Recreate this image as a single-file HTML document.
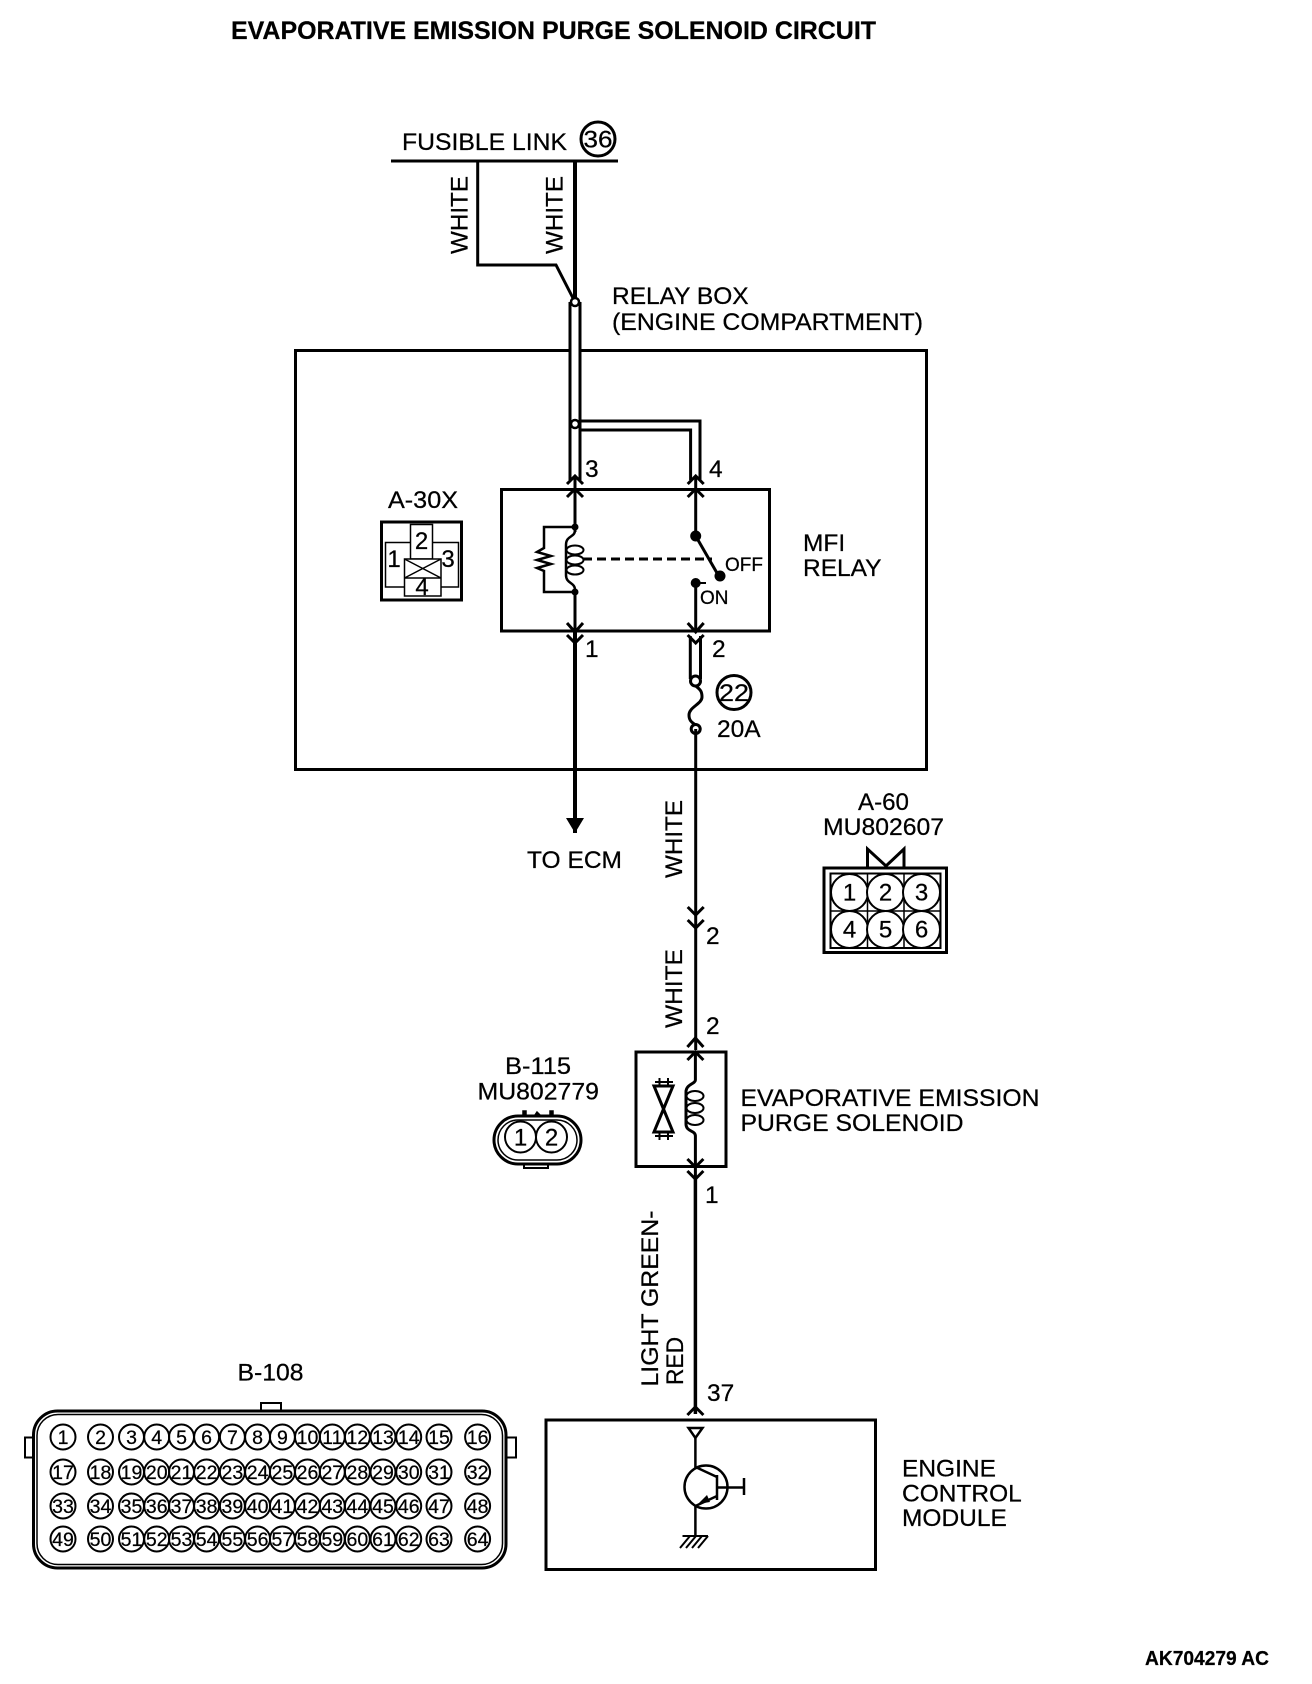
<!DOCTYPE html>
<html><head><meta charset="utf-8"><title>Evaporative Emission Purge Solenoid Circuit</title>
<style>
html,body{margin:0;padding:0;background:#fff}
svg{display:block}
text{font-family:"Liberation Sans",sans-serif;font-size:24.5px;fill:#000;stroke:#000;stroke-width:.25}
.w{fill:none;stroke:#000;stroke-width:3}
.t{fill:none;stroke:#000;stroke-width:2}
.n{font-size:19.5px;text-anchor:middle}
.d{font-size:24px;text-anchor:middle}
.r circle{fill:none;stroke:#000;stroke-width:2}
</style></head><body>
<svg width="1312" height="1684" viewBox="0 0 1312 1684" xmlns="http://www.w3.org/2000/svg">
<rect width="1312" height="1684" fill="#fff"/>
<text x="231" y="39" textLength="645" lengthAdjust="spacingAndGlyphs" style="font-size:25px;font-weight:bold">EVAPORATIVE EMISSION PURGE SOLENOID CIRCUIT</text>

<!-- Fusible link -->
<text x="402" y="150" textLength="165" lengthAdjust="spacingAndGlyphs">FUSIBLE LINK</text>
<circle cx="598" cy="139" r="17" class="w"/>
<text x="598" y="147.5" class="d" textLength="29" lengthAdjust="spacingAndGlyphs">36</text>
<path d="M391 161H618" class="w"/>
<path d="M477.7 161V265H556L575 302" class="w"/>
<path d="M575 161V298" fill="none" stroke="#000" stroke-width="4"/>
<text transform="translate(467.5,254) rotate(-90)" textLength="78" lengthAdjust="spacingAndGlyphs">WHITE</text>
<text transform="translate(562.5,254) rotate(-90)" textLength="78" lengthAdjust="spacingAndGlyphs">WHITE</text>

<text x="612" y="304">RELAY BOX</text>
<text x="612" y="330" textLength="311" lengthAdjust="spacingAndGlyphs">(ENGINE COMPARTMENT)</text>

<!-- Relay box -->
<rect x="295.5" y="350.5" width="631" height="419" class="w"/>
<rect x="570" y="302" width="10" height="176" fill="#fff" stroke="none"/>
<path d="M570 302V480M580 302V480" class="w"/>
<circle cx="575" cy="302" r="4" fill="#fff" stroke="#000" stroke-width="2.5"/>
<path d="M580 421H700V480M580 430H690.6V480" class="w"/>
<circle cx="575" cy="424" r="4" fill="#fff" stroke="#000" stroke-width="2.5"/>
<text x="585" y="477">3</text>
<text x="709" y="477">4</text>

<rect x="501.5" y="489.5" width="268" height="141.5" class="w"/>

<!-- top arrows -->
<path d="M567 484L575 476L583 484M567 497L575 489L583 497" class="w"/>
<path d="M687.7 484L695.7 476L703.7 484M687.7 497L695.7 489L703.7 497" class="w"/>
<!-- bottom arrows -->
<path d="M567 623L575 632L583 623M567 635L575 643L583 635" class="w"/>
<path d="M687.7 623L695.7 632L703.7 623M687.7 635L695.7 643L703.7 635" class="w"/>

<path d="M575 477V532M575 590V768" class="w"/>
<path d="M575 632V833" fill="none" stroke="#000" stroke-width="4"/>
<circle cx="575" cy="527" r="3.5"/><circle cx="575" cy="592" r="3.5"/>
<path d="M575 527H544V548L537 552L551 556L537 560L551 564L537 568L544 571V592H575" class="t" style="stroke-width:2.5"/>
<path d="M575 530C575 538 566 535 566 545V575C566 584 575 582 575 590" class="t" style="stroke-width:2.5"/>
<ellipse cx="575" cy="550" rx="8.5" ry="4.5" class="t"/>
<ellipse cx="575" cy="560" rx="8.5" ry="4.5" class="t"/>
<ellipse cx="575" cy="570" rx="8.5" ry="4.5" class="t"/>
<path d="M583 559H712" fill="none" stroke="#000" stroke-width="3" stroke-dasharray="9 5"/>

<path d="M695.7 477V536" class="w"/>
<circle cx="695.7" cy="536" r="5.5"/>
<path d="M695.7 536L717 573" class="w"/>
<circle cx="720" cy="576" r="5.5"/>
<circle cx="695.7" cy="583" r="5"/>
<path d="M695.7 583H706" class="t"/>
<path d="M695.7 583V632" class="w"/>
<text x="725" y="571" style="font-size:19px">OFF</text>
<text x="700" y="604" style="font-size:19px">ON</text>

<text x="803" y="551">MFI</text>
<text x="803" y="576">RELAY</text>
<text x="585" y="657">1</text>
<text x="712" y="657">2</text>

<path d="M690.3 636V679M700.5 636V679" class="w"/>
<circle cx="695.5" cy="681" r="5" fill="#fff" stroke="#000" stroke-width="3"/>
<path d="M695.7 686C701 690 702 692 702 697C702 704 689 707 689 715C689 720 691 722 695.7 725" class="w"/>
<circle cx="695.7" cy="729" r="4.5" fill="#fff" stroke="#000" stroke-width="3"/>
<circle cx="734" cy="692.5" r="17" class="w"/>
<text x="734" y="701" class="d" textLength="30" lengthAdjust="spacingAndGlyphs">22</text>
<text x="717" y="737">20A</text>

<!-- A-30X -->
<text x="388" y="508" textLength="70" lengthAdjust="spacingAndGlyphs">A-30X</text>
<rect x="381.5" y="522" width="80" height="78" class="w"/>
<rect x="385.5" y="542.5" width="73" height="44.5" class="t" style="stroke-width:1.5"/>
<rect x="410.5" y="524.5" width="22" height="34.5" fill="#fff" stroke="#000" stroke-width="1.5"/>
<rect x="404.5" y="559" width="36.5" height="37" fill="#fff" stroke="#000" stroke-width="1.5"/>
<path d="M404.5 578H441M404.5 559L441 578M441 559L404.5 578" class="t" style="stroke-width:1.5"/>
<text x="394" y="567" class="d">1</text>
<text x="421.5" y="549" class="d">2</text>
<text x="448" y="567" class="d">3</text>
<text x="422" y="595" class="d">4</text>

<!-- TO ECM -->
<path d="M566 818H584L575 833Z"/>
<text x="527" y="868" textLength="95" lengthAdjust="spacingAndGlyphs">TO ECM</text>

<!-- Middle wire -->
<path d="M695.7 729V1050" class="w"/>
<path d="M687.7 907L695.7 915L703.7 907M687.7 920L695.7 928L703.7 920" class="w"/>
<text x="706" y="944">2</text>
<text x="706" y="1034">2</text>
<text transform="translate(682,878) rotate(-90)" textLength="78" lengthAdjust="spacingAndGlyphs">WHITE</text>
<text transform="translate(682,1028) rotate(-90)" textLength="79" lengthAdjust="spacingAndGlyphs">WHITE</text>

<!-- A-60 -->
<text x="858" y="810" textLength="51" lengthAdjust="spacingAndGlyphs">A-60</text>
<text x="823" y="835" textLength="121" lengthAdjust="spacingAndGlyphs">MU802607</text>
<rect x="824" y="868" width="122.5" height="84.5" class="w"/>
<rect x="830.5" y="873.5" width="110" height="74.5" class="t"/>
<path d="M867.5 873.5V948M904 873.5V948M830.5 911H940.5" class="t" style="stroke-width:1.5"/>
<path d="M867.5 867V849L886 866L904 849V867" class="w"/>
<g fill="#fff" stroke="#000" stroke-width="2">
<circle cx="849.5" cy="892.5" r="18.5"/><circle cx="885.5" cy="892.5" r="18.5"/><circle cx="921.5" cy="892.5" r="18.5"/>
<circle cx="849.5" cy="929.5" r="18.5"/><circle cx="885.5" cy="929.5" r="18.5"/><circle cx="921.5" cy="929.5" r="18.5"/>
</g>
<text x="849.5" y="900.5" class="d">1</text><text x="885.5" y="900.5" class="d">2</text><text x="921.5" y="900.5" class="d">3</text>
<text x="849.5" y="937.5" class="d">4</text><text x="885.5" y="937.5" class="d">5</text><text x="921.5" y="937.5" class="d">6</text>

<!-- Solenoid -->
<rect x="636" y="1052" width="90" height="114.5" class="w"/>
<path d="M687.4 1047L695.4 1038L703.4 1047M687.4 1060L695.4 1052L703.4 1060" class="w"/>
<path d="M695.4 1052V1080C695.4 1084 686 1084 686 1092V1124C686 1132 695.4 1130 695.4 1136V1179" class="w"/>
<ellipse cx="695" cy="1096" rx="8.5" ry="5" class="t"/>
<ellipse cx="695" cy="1108" rx="8.5" ry="5" class="t"/>
<ellipse cx="695" cy="1120" rx="8.5" ry="5" class="t"/>
<path d="M687.4 1159L695.4 1167L703.4 1159M687.4 1171L695.4 1179L703.4 1171" class="w"/>
<path d="M654 1086H673L654 1132H673Z" class="w"/>
<path d="M659.5 1078V1086M668 1078V1086M655 1082H673M659.5 1133V1140M668 1133V1140M655 1136H673" class="t"/>
<text x="740.5" y="1106" textLength="299" lengthAdjust="spacingAndGlyphs">EVAPORATIVE EMISSION</text>
<text x="740.5" y="1131" textLength="223" lengthAdjust="spacingAndGlyphs">PURGE SOLENOID</text>

<!-- B-115 -->
<text x="505" y="1074" textLength="66" lengthAdjust="spacingAndGlyphs">B-115</text>
<text x="477.5" y="1099.5" textLength="121.5" lengthAdjust="spacingAndGlyphs">MU802779</text>
<rect x="494" y="1116" width="87" height="48" rx="24" class="w"/>
<rect x="498" y="1120" width="79" height="40" rx="20" class="t" style="stroke-width:1.5"/>
<circle cx="520.5" cy="1137" r="15.5" fill="#fff" stroke="#000" stroke-width="2"/>
<circle cx="551.5" cy="1137" r="15.5" fill="#fff" stroke="#000" stroke-width="2"/>
<path d="M523 1115V1111H526V1115M550 1115V1111H553V1115M535 1115L537 1112L540 1115" fill="#000" stroke="#000" stroke-width="1.5"/>
<path d="M524 1164V1168H548V1164" class="t"/>
<text x="520.5" y="1145.5" class="d">1</text><text x="551.5" y="1145.5" class="d">2</text>

<!-- Lower wire -->
<path d="M695.4 1179V1414" fill="none" stroke="#000" stroke-width="3.5"/>
<text x="705" y="1203">1</text>
<text x="707" y="1401">37</text>
<text transform="translate(658,1386.5) rotate(-90)" textLength="176" lengthAdjust="spacingAndGlyphs">LIGHT GREEN-</text>
<text transform="translate(683,1385) rotate(-90)" textLength="48" lengthAdjust="spacingAndGlyphs">RED</text>
<path d="M687.4 1415L695.4 1407L703.4 1415" class="w"/>

<!-- ECM -->
<rect x="546" y="1420" width="329.5" height="149.5" class="w"/>
<path d="M688.5 1428H702.5L695.4 1438Z" class="w" style="stroke-width:2.5"/>
<path d="M695.4 1438V1467L717 1477M717 1496L695.4 1506V1536" class="w" style="stroke-width:2.5"/>
<circle cx="706" cy="1487" r="21.5" class="w" style="stroke-width:2.5"/>
<path d="M717 1475V1500M717 1487.5H744M744 1478V1495" class="w" style="stroke-width:2.5"/>
<path d="M698 1504L707 1495L710 1502Z"/>
<path d="M682.5 1536H708M690 1536L680 1548M696 1536L686 1548M702 1536L692 1548M708 1536L698 1548" class="t"/>
<text x="902" y="1476.5">ENGINE</text>
<text x="902" y="1501.5">CONTROL</text>
<text x="902" y="1526">MODULE</text>

<!-- B-108 -->
<text x="237.5" y="1380.5" textLength="66" lengthAdjust="spacingAndGlyphs">B-108</text>
<g transform="translate(0,-1.5)">
<rect x="33.5" y="1412.5" width="472.5" height="157" rx="24" class="w"/>
<rect x="37" y="1416" width="465.5" height="150" rx="21" class="t" style="stroke-width:1.5"/>
<path d="M261 1412V1404.5H281V1412" class="t"/>
<path d="M33 1439H25V1459H33M506 1439H516V1459H506" class="t"/>

<g class="r" transform="translate(0,1438)">
<circle cx="63" cy=".5" r="12.5"/><circle cx="100.5" cy=".5" r="12.5"/><circle cx="131.5" cy=".5" r="12.5"/><circle cx="156.7" cy=".5" r="12.5"/><circle cx="181.5" cy=".5" r="12.5"/><circle cx="206.6" cy=".5" r="12.5"/><circle cx="232.4" cy=".5" r="12.5"/><circle cx="257.6" cy=".5" r="12.5"/><circle cx="282.4" cy=".5" r="12.5"/><circle cx="307.5" cy=".5" r="12.5"/><circle cx="332.3" cy=".5" r="12.5"/><circle cx="357.4" cy=".5" r="12.5"/><circle cx="383" cy=".5" r="12.5"/><circle cx="408.7" cy=".5" r="12.5"/><circle cx="439" cy=".5" r="12.5"/><circle cx="477.6" cy=".5" r="12.5"/>
<text class="n" x="63" y="7.5">1</text><text class="n" x="100.5" y="7.5">2</text><text class="n" x="131.5" y="7.5">3</text><text class="n" x="156.7" y="7.5">4</text><text class="n" x="181.5" y="7.5">5</text><text class="n" x="206.6" y="7.5">6</text><text class="n" x="232.4" y="7.5">7</text><text class="n" x="257.6" y="7.5">8</text><text class="n" x="282.4" y="7.5">9</text><text class="n" x="307.5" y="7.5">10</text><text class="n" x="332.3" y="7.5">11</text><text class="n" x="357.4" y="7.5">12</text><text class="n" x="383" y="7.5">13</text><text class="n" x="408.7" y="7.5">14</text><text class="n" x="439" y="7.5">15</text><text class="n" x="477.6" y="7.5">16</text>
</g>
<g class="r" transform="translate(0,1473)">
<circle cx="63" cy=".5" r="12.5"/><circle cx="100.5" cy=".5" r="12.5"/><circle cx="131.5" cy=".5" r="12.5"/><circle cx="156.7" cy=".5" r="12.5"/><circle cx="181.5" cy=".5" r="12.5"/><circle cx="206.6" cy=".5" r="12.5"/><circle cx="232.4" cy=".5" r="12.5"/><circle cx="257.6" cy=".5" r="12.5"/><circle cx="282.4" cy=".5" r="12.5"/><circle cx="307.5" cy=".5" r="12.5"/><circle cx="332.3" cy=".5" r="12.5"/><circle cx="357.4" cy=".5" r="12.5"/><circle cx="383" cy=".5" r="12.5"/><circle cx="408.7" cy=".5" r="12.5"/><circle cx="439" cy=".5" r="12.5"/><circle cx="477.6" cy=".5" r="12.5"/>
<text class="n" x="63" y="7.5">17</text><text class="n" x="100.5" y="7.5">18</text><text class="n" x="131.5" y="7.5">19</text><text class="n" x="156.7" y="7.5">20</text><text class="n" x="181.5" y="7.5">21</text><text class="n" x="206.6" y="7.5">22</text><text class="n" x="232.4" y="7.5">23</text><text class="n" x="257.6" y="7.5">24</text><text class="n" x="282.4" y="7.5">25</text><text class="n" x="307.5" y="7.5">26</text><text class="n" x="332.3" y="7.5">27</text><text class="n" x="357.4" y="7.5">28</text><text class="n" x="383" y="7.5">29</text><text class="n" x="408.7" y="7.5">30</text><text class="n" x="439" y="7.5">31</text><text class="n" x="477.6" y="7.5">32</text>
</g>
<g class="r" transform="translate(0,1507)">
<circle cx="63" cy=".5" r="12.5"/><circle cx="100.5" cy=".5" r="12.5"/><circle cx="131.5" cy=".5" r="12.5"/><circle cx="156.7" cy=".5" r="12.5"/><circle cx="181.5" cy=".5" r="12.5"/><circle cx="206.6" cy=".5" r="12.5"/><circle cx="232.4" cy=".5" r="12.5"/><circle cx="257.6" cy=".5" r="12.5"/><circle cx="282.4" cy=".5" r="12.5"/><circle cx="307.5" cy=".5" r="12.5"/><circle cx="332.3" cy=".5" r="12.5"/><circle cx="357.4" cy=".5" r="12.5"/><circle cx="383" cy=".5" r="12.5"/><circle cx="408.7" cy=".5" r="12.5"/><circle cx="439" cy=".5" r="12.5"/><circle cx="477.6" cy=".5" r="12.5"/>
<text class="n" x="63" y="7.5">33</text><text class="n" x="100.5" y="7.5">34</text><text class="n" x="131.5" y="7.5">35</text><text class="n" x="156.7" y="7.5">36</text><text class="n" x="181.5" y="7.5">37</text><text class="n" x="206.6" y="7.5">38</text><text class="n" x="232.4" y="7.5">39</text><text class="n" x="257.6" y="7.5">40</text><text class="n" x="282.4" y="7.5">41</text><text class="n" x="307.5" y="7.5">42</text><text class="n" x="332.3" y="7.5">43</text><text class="n" x="357.4" y="7.5">44</text><text class="n" x="383" y="7.5">45</text><text class="n" x="408.7" y="7.5">46</text><text class="n" x="439" y="7.5">47</text><text class="n" x="477.6" y="7.5">48</text>
</g>
<g class="r" transform="translate(0,1540)">
<circle cx="63" cy=".5" r="12.5"/><circle cx="100.5" cy=".5" r="12.5"/><circle cx="131.5" cy=".5" r="12.5"/><circle cx="156.7" cy=".5" r="12.5"/><circle cx="181.5" cy=".5" r="12.5"/><circle cx="206.6" cy=".5" r="12.5"/><circle cx="232.4" cy=".5" r="12.5"/><circle cx="257.6" cy=".5" r="12.5"/><circle cx="282.4" cy=".5" r="12.5"/><circle cx="307.5" cy=".5" r="12.5"/><circle cx="332.3" cy=".5" r="12.5"/><circle cx="357.4" cy=".5" r="12.5"/><circle cx="383" cy=".5" r="12.5"/><circle cx="408.7" cy=".5" r="12.5"/><circle cx="439" cy=".5" r="12.5"/><circle cx="477.6" cy=".5" r="12.5"/>
<text class="n" x="63" y="7.5">49</text><text class="n" x="100.5" y="7.5">50</text><text class="n" x="131.5" y="7.5">51</text><text class="n" x="156.7" y="7.5">52</text><text class="n" x="181.5" y="7.5">53</text><text class="n" x="206.6" y="7.5">54</text><text class="n" x="232.4" y="7.5">55</text><text class="n" x="257.6" y="7.5">56</text><text class="n" x="282.4" y="7.5">57</text><text class="n" x="307.5" y="7.5">58</text><text class="n" x="332.3" y="7.5">59</text><text class="n" x="357.4" y="7.5">60</text><text class="n" x="383" y="7.5">61</text><text class="n" x="408.7" y="7.5">62</text><text class="n" x="439" y="7.5">63</text><text class="n" x="477.6" y="7.5">64</text>
</g>
</g>

<text x="1145" y="1665" textLength="124" lengthAdjust="spacingAndGlyphs" style="font-size:20px;font-weight:bold">AK704279 AC</text>
</svg>
</body></html>
